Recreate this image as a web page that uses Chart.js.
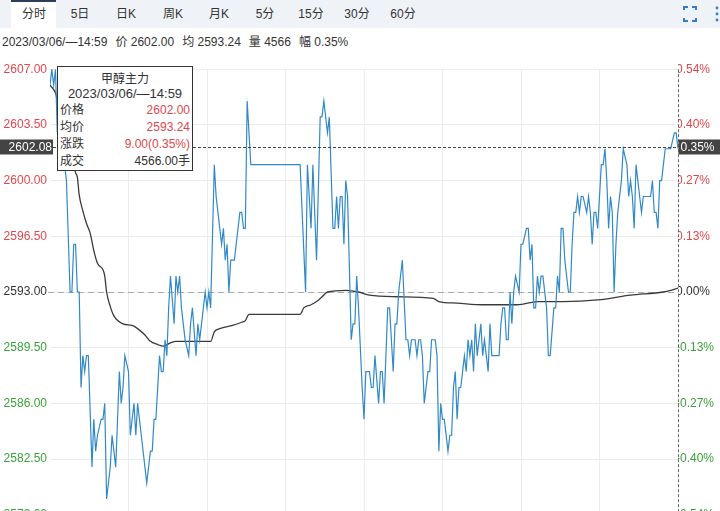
<!DOCTYPE html>
<html>
<head>
<meta charset="utf-8">
<script src="https://cdn.jsdelivr.net/npm/chart.js@4.4.1/dist/chart.umd.min.js"></script>
<style>
    body { margin: 0; width: 720px; height: 511px; overflow: hidden; background: #fff;
           font-family: "Liberation Sans", "Noto Sans CJK SC", sans-serif; color: #333; }
    .bar { position: absolute; left: 0; top: 0; width: 720px; height: 28px; background: #eff3f8; }
    .sel { position: absolute; left: 11px; top: 0; width: 45px; height: 28px; background: #fff;
           border-top: 2px solid #2c3e5c; box-sizing: border-box; }
    .tab { position: absolute; top: 6px; font-size: 12px; line-height: 16px; transform: translateX(-50%); white-space: nowrap; }
    .info { position: absolute; left: 2px; top: 34px; font-size: 12px; line-height: 16px; white-space: nowrap; }
    .info span { margin-left: 8px; }
    #chart { position: absolute; left: 0; top: 59px; }
    .tip { position: absolute; left: 57px; top: 66px; width: 136px; height: 105px; box-sizing: border-box;
           border: 1px solid #333; background: #fff; font-size: 12px; }
    .tip div { position: absolute; left: 2px; right: 2px; line-height: 16px; white-space: nowrap; }
    .tip .c { text-align: center; }
    .tip b { font-weight: normal; position: absolute; right: 0; }
    .red { color: #e0474c; }
</style>
</head>
<body>
<div class="bar">
    <div class="sel"></div>
    <div class="tab" style="left:34px">分时</div>
    <div class="tab" style="left:80px">5日</div>
    <div class="tab" style="left:126px">日K</div>
    <div class="tab" style="left:173px">周K</div>
    <div class="tab" style="left:219px">月K</div>
    <div class="tab" style="left:265px">5分</div>
    <div class="tab" style="left:311px">15分</div>
    <div class="tab" style="left:357px">30分</div>
    <div class="tab" style="left:403px">60分</div>
    <svg style="position:absolute;left:680px;top:4px" width="40" height="20">
        <path d="M4 6V3h4 M12 3h4v3 M16 14v3h-4 M8 17H4v-3" fill="none" stroke="#2f7bd6" stroke-width="2"/>
        <circle cx="37" cy="4" r="1.4" fill="#2f7bd6"/><circle cx="37" cy="10" r="1.4" fill="#2f7bd6"/><circle cx="37" cy="16" r="1.4" fill="#2f7bd6"/>
    </svg>
</div>
<div class="info">2023/03/06/—14:59<span>价 2602.00</span><span>均 2593.24</span><span>量 4566</span><span>幅 0.35%</span></div>

<canvas id="chart" width="720" height="466"></canvas>

<div class="tip">
    <div class="c" style="top:4px">甲醇主力</div>
    <div class="c" style="top:19px;font-size:13px">2023/03/06/—14:59</div>
    <div style="top:35px">价格<b class="red">2602.00</b></div>
    <div style="top:52px">均价<b class="red">2593.24</b></div>
    <div style="top:69px">涨跌<b class="red">9.00(0.35%)</b></div>
    <div style="top:86px">成交<b>4566.00手</b></div>
</div>

<script>
// 分钟序号(0 = 开盘, 344 = 14:59) 和对应成交价
const priceMinutes = [
    0, 1, 2, 3, 4, 5, 6, 7, 8, 9,
    11, 12, 13, 14, 15, 16, 17, 18, 19, 20,
    21, 23, 24, 25, 26, 28, 29, 30, 31, 33,
    34, 36, 37, 38, 39, 40, 41, 43, 44, 46,
    47, 48, 50, 52, 53, 54, 55, 56, 57, 58,
    60, 61, 62, 63, 64, 65, 66, 68, 69, 70,
    71, 72, 73, 74, 76, 77, 78, 80, 81, 82,
    83, 85, 86, 87, 88, 90, 91, 92, 93, 94,
    95, 96, 97, 98, 99, 101, 102, 104, 105, 106,
    107, 108, 110, 137, 140, 141, 143, 144, 146, 148,
    149, 150, 151, 152, 153, 155, 156, 157, 158, 159,
    160, 161, 162, 163, 165, 166, 167, 168, 169, 171,
    172, 173, 175, 176, 177, 178, 180, 181, 182, 183,
    185, 186, 188, 189, 190, 191, 193, 195, 196, 197,
    198, 200, 201, 202, 203, 204, 205, 207, 208, 209,
    211, 212, 213, 214, 215, 216, 218, 219, 220, 221,
    222, 223, 224, 225, 226, 227, 228, 229, 230, 231,
    232, 233, 234, 235, 236, 237, 238, 239, 240, 241,
    242, 243, 246, 247, 248, 249, 250, 251, 252, 253,
    254, 255, 257, 258, 259, 261, 262, 263, 264, 265,
    266, 267, 268, 269, 270, 272, 273, 274, 276, 277,
    278, 279, 280, 281, 282, 284, 285, 286, 287, 288,
    289, 290, 291, 292, 294, 295, 296, 297, 298, 299,
    300, 302, 303, 304, 305, 306, 307, 308, 309, 310,
    311, 313, 314, 316, 317, 318, 319, 320, 321, 322,
    323, 324, 325, 326, 329, 330, 331, 332, 333, 334,
    335, 336, 337, 340, 342, 343, 344
];
const prices = [
    2606, 2607, 2606, 2607, 2603, 2604, 2603, 2602, 2601, 2600,
    2593, 2593, 2596, 2596, 2593, 2593, 2587, 2589, 2588, 2589,
    2589, 2582, 2585, 2583, 2584, 2585, 2585, 2586, 2580, 2582,
    2584, 2582, 2585, 2588, 2586, 2587, 2589, 2588, 2584, 2586,
    2584, 2586, 2584, 2582, 2581, 2582, 2583, 2583, 2585, 2585,
    2589, 2588, 2588, 2590, 2589, 2592, 2594, 2591, 2594, 2593,
    2594, 2592, 2591, 2590, 2589, 2591, 2592, 2589, 2591, 2590,
    2591, 2593, 2592, 2593, 2592, 2601, 2599, 2598, 2597, 2596,
    2597, 2595, 2596, 2593, 2595, 2595, 2596, 2598, 2598, 2597,
    2597, 2605, 2601, 2601, 2593, 2601, 2597, 2601, 2595, 2604,
    2604, 2605, 2604, 2603, 2604, 2597, 2597, 2599, 2597, 2599,
    2599, 2596, 2600, 2599, 2590, 2591, 2591, 2594, 2592, 2587,
    2585, 2588, 2588, 2587, 2587, 2589, 2586, 2588, 2588, 2586,
    2592, 2592, 2588, 2591, 2591, 2593, 2595, 2590, 2590, 2589,
    2590, 2590, 2589, 2590, 2590, 2589, 2586, 2588, 2588, 2590,
    2590, 2589, 2583, 2586, 2585, 2585, 2583, 2584, 2584, 2587,
    2588, 2585, 2587, 2587, 2588, 2589, 2588, 2590, 2589, 2590,
    2588, 2591, 2589, 2590, 2591, 2589, 2590, 2589, 2588, 2591,
    2589, 2589, 2589, 2591, 2592, 2592, 2590, 2590, 2593, 2591,
    2593, 2594, 2593, 2596, 2596, 2597, 2597, 2595, 2596, 2592,
    2592, 2594, 2593, 2594, 2594, 2592, 2589, 2589, 2592, 2592,
    2594, 2593, 2597, 2597, 2595, 2593, 2593, 2596, 2598, 2598,
    2599, 2598, 2599, 2599, 2598, 2599, 2598, 2596, 2598, 2598,
    2597, 2601, 2601, 2602, 2600, 2597, 2599, 2598, 2593, 2596,
    2598, 2600, 2602, 2601, 2599, 2600, 2599, 2597, 2601, 2600,
    2599, 2598, 2599, 2599, 2599, 2600, 2598, 2598, 2597, 2600,
    2600, 2601, 2602, 2602, 2603, 2603, 2602
];

// 均价线
const avgMinutes = [
    0, 3, 5, 9, 12, 14, 15, 16, 18, 20,
    22, 24, 26, 29, 30, 31, 33, 35, 40, 45,
    48, 52, 55, 59, 62, 66, 69, 88, 90, 93,
    100, 105, 107, 109, 137, 139, 143, 146, 149, 152,
    162, 169, 175, 190, 210, 213, 223, 237, 256, 267,
    281, 300, 318, 336, 340, 344
];
const avgPrices = [
    2606, 2605.5, 2604.5, 2602.8, 2601.5, 2600.5, 2600.2, 2599.1, 2598.1, 2597.3,
    2596.7, 2595.6, 2594.8, 2594.4, 2594, 2593, 2592.1, 2591.5, 2591, 2590.9,
    2590.7, 2590.3, 2589.9, 2589.7, 2589.6, 2589.8, 2589.9, 2589.9, 2590.5, 2590.7,
    2590.9, 2591.1, 2591.2, 2591.6, 2591.6, 2592, 2592.2, 2592.4, 2592.7, 2593,
    2593.1, 2593, 2592.8, 2592.7, 2592.6, 2592.4, 2592.3, 2592.2, 2592.2, 2592.4,
    2592.4, 2592.5, 2592.8, 2593, 2593.1, 2593.24
];

const priceTicks = [2579, 2582.5, 2586, 2589.5, 2593, 2596.5, 2600, 2603.5, 2607];
const pctTickLabels = ['-0.54%', '-0.40%', '-0.27%', '-0.13%', '0.00%', '0.13%', '0.27%', '0.40%', '0.54%'];
const gridMinutes = [0, 43, 86, 129, 172, 215, 258, 301, 344];

const prevClose = 2593;
const lastMinute = 344;
const crossValue = 2602.08;
const crossLabel = '2602.08';
const crossPct = '0.35%';

const RED = '#e0474c';
const GREEN = '#3ba13b';
const tickColor = v => v > prevClose ? RED : (v < prevClose ? GREEN : '#333');

Chart.defaults.font.family = '"Liberation Sans", Arial, sans-serif';
Chart.defaults.font.size = 12;

const overlay = {
    id: 'overlay',
    beforeDatasetsDraw(chart) {
        const { ctx, chartArea, scales } = chart;
        const y = Math.round(scales.y.getPixelForValue(prevClose)) + 0.5;
        ctx.save();
        ctx.strokeStyle = '#aaa';
        ctx.lineWidth = 1;
        ctx.setLineDash([6, 4]);
        ctx.beginPath();
        ctx.moveTo(chartArea.left - 2, y);
        ctx.lineTo(chartArea.right, y);
        ctx.stroke();
        ctx.restore();
    },
    afterDraw(chart) {
        const { ctx, chartArea, scales, width, height } = chart;
        const cy = Math.round(scales.y.getPixelForValue(crossValue)) + 0.5;
        const cx = Math.round(scales.x.getPixelForValue(lastMinute)) + 0.5;
        ctx.save();
        ctx.lineWidth = 1;
        ctx.setLineDash([3, 2]);
        ctx.strokeStyle = '#444';
        ctx.beginPath();
        ctx.moveTo(chartArea.left + 3, cy);
        ctx.lineTo(cx, cy);
        ctx.stroke();
        ctx.strokeStyle = '#666';
        ctx.beginPath();
        ctx.moveTo(cx, chartArea.top);
        ctx.lineTo(cx, height);
        ctx.stroke();
        ctx.setLineDash([]);

        ctx.fillStyle = '#444';
        ctx.fillRect(0, cy - 8, chartArea.left + 3, 15);
        ctx.fillRect(cx, cy - 8, width - cx, 15);
        ctx.fillStyle = '#fff';
        ctx.font = '12px "Liberation Sans", Arial, sans-serif';
        ctx.textBaseline = 'middle';
        ctx.textAlign = 'right';
        ctx.fillText(crossLabel, chartArea.left + 2, cy);
        ctx.textAlign = 'left';
        ctx.fillText(crossPct, cx + 2, cy);
        ctx.restore();
    }
};

const setTicks = s => { s.ticks = priceTicks.map(v => ({ value: v })); };

new Chart(document.getElementById('chart'), {
    type: 'line',
    data: {
        datasets: [
            {
                label: '价格',
                data: priceMinutes.map((m, i) => ({ x: m, y: prices[i] })),
                borderColor: '#3189c6',
                borderWidth: 1.2,
                pointRadius: 0,
                tension: 0
            },
            {
                label: '均价',
                data: avgMinutes.map((m, i) => ({ x: m, y: avgPrices[i] })),
                borderColor: '#3a3a3a',
                borderWidth: 1.3,
                pointRadius: 0,
                cubicInterpolationMode: 'monotone'
            }
        ]
    },
    options: {
        responsive: false,
        animation: false,
        devicePixelRatio: 1,
        events: [],
        layout: { padding: 0 },
        plugins: { legend: { display: false }, tooltip: { enabled: false } },
        scales: {
            x: {
                type: 'linear', min: 0, max: lastMinute,
                afterBuildTicks: s => { s.ticks = gridMinutes.map(v => ({ value: v })); },
                ticks: { display: false },
                grid: {
                    drawTicks: false,
                    color: c => (c.tick && (c.tick.value === 0 || c.tick.value === lastMinute)) ? 'rgba(0,0,0,0)' : '#ececec'
                },
                border: { display: false },
                afterFit: s => { s.height = 0; }
            },
            y: {
                position: 'left', min: 2579, max: 2607,
                afterBuildTicks: setTicks,
                ticks: { callback: v => v.toFixed(2), color: c => tickColor(c.tick.value), padding: 3 },
                grid: { drawTicks: false, color: '#ececec' },
                border: { display: false },
                afterFit: s => { s.width = 50; }
            },
            y2: {
                position: 'right', min: 2579, max: 2607,
                afterBuildTicks: setTicks,
                ticks: { callback: (v, i) => pctTickLabels[i], color: c => tickColor(c.tick.value), padding: -2 },
                grid: { display: false, drawTicks: false },
                border: { display: false },
                afterFit: s => { s.width = 42; }
            }
        }
    },
    plugins: [overlay]
});
</script>
</body>
</html>
